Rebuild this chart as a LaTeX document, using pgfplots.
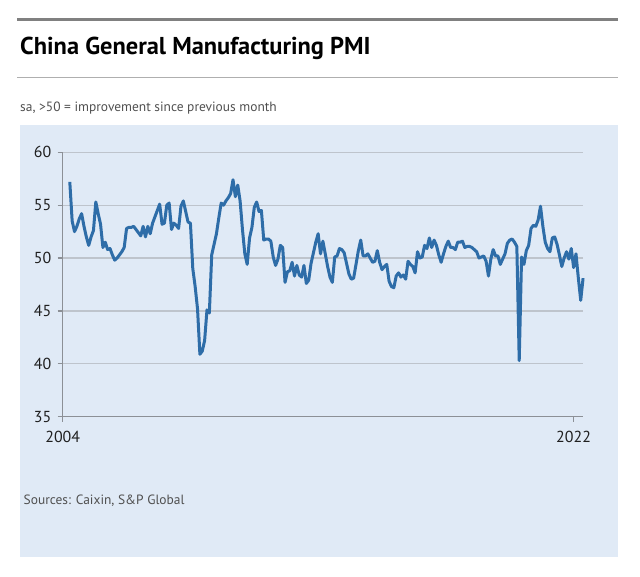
\documentclass[border=0pt]{standalone}
\usepackage{fontspec}
\setmainfont{PT Sans}
\usepackage{pgfplots}
\pgfplotsset{compat=1.18}
\usepackage{pgfplotstable}
\definecolor{panel}{RGB}{224,234,246}
\definecolor{pmi}{RGB}{46,109,168}
\definecolor{gridc}{RGB}{190,196,204}
\definecolor{axisc}{RGB}{140,144,150}
\definecolor{rulec}{RGB}{128,128,128}
\definecolor{rule2}{RGB}{175,175,175}
\definecolor{subc}{RGB}{80,80,80}

\pgfplotstableread{
y m v
2004 4 57.2
2004 5 53.5
2004 6 52.5
2004 7 53.0
2004 8 53.7
2004 9 54.2
2004 10 53.0
2004 11 52.0
2004 12 51.2
2005 1 52.0
2005 2 52.6
2005 3 55.3
2005 4 54.2
2005 5 53.2
2005 6 51.0
2005 7 51.5
2005 8 50.8
2005 9 50.9
2005 10 50.3
2005 11 49.8
2005 12 50.0
2006 1 50.3
2006 2 50.6
2006 3 51.0
2006 4 52.8
2006 5 52.9
2006 6 52.9
2006 7 53.0
2006 8 52.7
2006 9 52.4
2006 10 52.1
2006 11 53.0
2006 12 52.0
2007 1 53.0
2007 2 52.3
2007 3 53.3
2007 4 53.9
2007 5 54.5
2007 6 55.1
2007 7 53.2
2007 8 53.3
2007 9 55.0
2007 10 55.2
2007 11 52.7
2007 12 53.3
2008 1 53.1
2008 2 52.8
2008 3 54.9
2008 4 55.4
2008 5 54.4
2008 6 53.4
2008 7 53.3
2008 8 49.0
2008 9 47.3
2008 10 45.2
2008 11 40.9
2008 12 41.2
2009 1 42.2
2009 2 45.1
2009 3 44.8
2009 4 50.3
2009 5 51.3
2009 6 52.3
2009 7 53.8
2009 8 55.2
2009 9 55.0
2009 10 55.4
2009 11 55.7
2009 12 56.1
2010 1 57.4
2010 2 55.8
2010 3 56.9
2010 4 55.4
2010 5 52.7
2010 6 50.4
2010 7 49.4
2010 8 51.9
2010 9 52.9
2010 10 54.8
2010 11 55.3
2010 12 54.4
2011 1 54.5
2011 2 51.7
2011 3 51.8
2011 4 51.8
2011 5 51.6
2011 6 50.1
2011 7 49.3
2011 8 49.9
2011 9 51.2
2011 10 51.0
2011 11 47.7
2011 12 48.7
2012 1 48.8
2012 2 49.6
2012 3 48.3
2012 4 49.3
2012 5 48.4
2012 6 48.2
2012 7 49.3
2012 8 47.6
2012 9 47.9
2012 10 49.5
2012 11 50.5
2012 12 51.5
2013 1 52.3
2013 2 50.4
2013 3 51.6
2013 4 50.4
2013 5 49.2
2013 6 48.2
2013 7 47.7
2013 8 50.1
2013 9 50.2
2013 10 50.9
2013 11 50.8
2013 12 50.5
2014 1 49.5
2014 2 48.5
2014 3 48.0
2014 4 48.1
2014 5 49.4
2014 6 50.7
2014 7 51.7
2014 8 50.2
2014 9 50.2
2014 10 50.4
2014 11 50.0
2014 12 49.6
2015 1 49.7
2015 2 50.7
2015 3 49.6
2015 4 48.9
2015 5 49.2
2015 6 49.4
2015 7 47.8
2015 8 47.3
2015 9 47.2
2015 10 48.3
2015 11 48.6
2015 12 48.2
2016 1 48.4
2016 2 48.0
2016 3 49.7
2016 4 49.4
2016 5 49.2
2016 6 48.6
2016 7 50.6
2016 8 50.0
2016 9 50.1
2016 10 51.2
2016 11 50.9
2016 12 51.9
2017 1 51.0
2017 2 51.7
2017 3 51.2
2017 4 50.3
2017 5 49.6
2017 6 50.4
2017 7 51.1
2017 8 51.6
2017 9 51.0
2017 10 51.0
2017 11 50.8
2017 12 51.5
2018 1 51.5
2018 2 51.6
2018 3 51.0
2018 4 51.1
2018 5 51.1
2018 6 51.0
2018 7 50.8
2018 8 50.6
2018 9 50.0
2018 10 50.1
2018 11 50.2
2018 12 49.7
2019 1 48.3
2019 2 49.9
2019 3 50.8
2019 4 50.2
2019 5 50.2
2019 6 49.4
2019 7 49.9
2019 8 50.4
2019 9 51.4
2019 10 51.7
2019 11 51.8
2019 12 51.5
2020 1 51.1
2020 2 40.3
2020 3 50.1
2020 4 49.4
2020 5 50.7
2020 6 51.2
2020 7 52.8
2020 8 53.1
2020 9 53.0
2020 10 53.6
2020 11 54.9
2020 12 53.0
2021 1 51.5
2021 2 50.9
2021 3 50.6
2021 4 51.9
2021 5 52.0
2021 6 51.3
2021 7 50.3
2021 8 49.2
2021 9 50.0
2021 10 50.6
2021 11 49.9
2021 12 50.9
2022 1 49.1
2022 2 50.4
2022 3 48.1
2022 4 46.0
2022 5 48.1
}\pmidata

\begin{document}
\begin{tikzpicture}
\useasboundingbox (0bp,0bp) rectangle (640bp,577bp);
% header
\draw[rulec, line width=3.5bp] (17bp,557.5bp) -- (617.5bp,557.5bp);
\node[anchor=base west, inner sep=0pt, font=\fontsize{24.5}{28}\selectfont\bfseries] at (20bp,522.5bp) {China General Manufacturing PMI};
\draw[rule2, line width=1.5bp] (17bp,499.5bp) -- (617.5bp,499.5bp);
\node[anchor=base west, inner sep=0pt, text=subc, font=\fontsize{13.5}{16}\selectfont] at (20bp,465bp) {sa, >50 = improvement since previous month};
% panel
\fill[panel] (20bp,20bp) rectangle (617.5bp,452bp);
\node[anchor=base west, inner sep=0pt, text=subc, font=\fontsize{13.5}{16}\selectfont] at (23.5bp,72bp) {Sources: Caixin, S\&P Global};
\begin{axis}[
  at={(62.7bp,160.3bp)}, anchor=south west,
  width=520bp, height=264.4bp, scale only axis,
  xmin=2004, xmax=2022.32, ymin=35, ymax=60,
  axis x line*=bottom, axis y line*=left,
  axis line style={axisc, line width=1.2bp},
  ytick={35,40,45,50,55,60}, xtick={2004,2022},
  ymajorgrids, grid style={gridc, line width=1.2bp},
  tick align=outside, major tick length=5bp,
  tick style={axisc, line width=1.2bp},
  ticklabel style={font=\fontsize{16}{19}\selectfont, text=black!88},
  yticklabel style={xshift=-3bp},
  xticklabel style={yshift=-6bp},
  /pgf/number format/assume math mode=true,
  /pgf/number format/1000 sep={},
  clip=false,
]
\addplot[pmi, line width=3bp, line join=round, no markers]
  table[x expr={\thisrow{y}+(\thisrow{m}-1)/12}, y=v] {\pmidata};
\end{axis}
\end{tikzpicture}
\end{document}
